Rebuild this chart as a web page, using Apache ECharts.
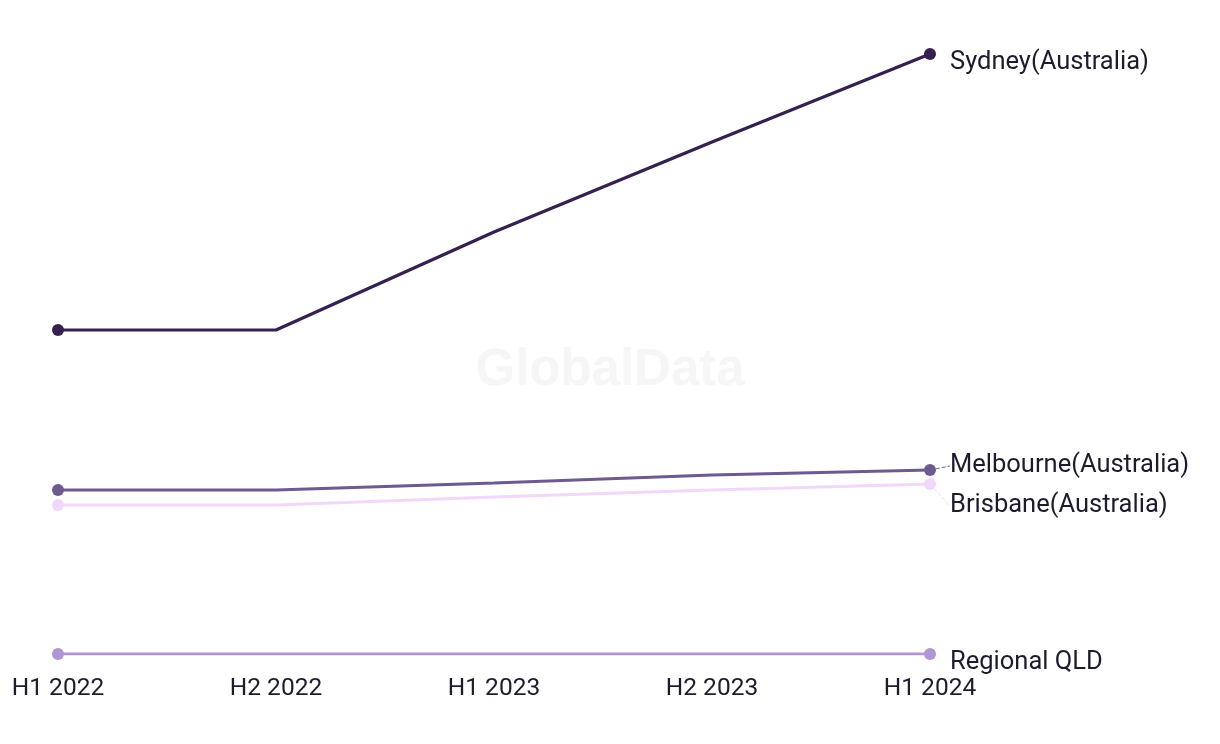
<!DOCTYPE html>
<html>
<head>
<meta charset="utf-8">
<style>
html,body{margin:0;padding:0;background:#fff;}
#chart{width:1220px;height:744px;}
</style>
<script src="https://cdn.jsdelivr.net/npm/echarts@6/dist/echarts.min.js"></script>
</head>
<body>
<div id="chart"></div>
<script>
const categories = ['H1 2022', 'H2 2022', 'H1 2023', 'H2 2023', 'H1 2024'];
const sydney = [364, 364, 462, 552, 640];
const melbourne = [204, 204, 211, 219, 224];
const brisbane = [189, 189, 197, 204, 210];
const regionalQld = [40, 40, 40, 40, 40];
const seriesNames = ['Sydney(Australia)', 'Melbourne(Australia)', 'Brisbane(Australia)', 'Regional QLD'];
const seriesColors = ['#35214f', '#6d5a8f', '#f1d8fa', '#b096d2'];
const seriesValues = [sydney, melbourne, brisbane, regionalQld];
const labelShift = [9, -4, 22, 9];
const showLeader = [false, true, true, false];

const FONT = 'Roboto';
const TEXT = '#1e1b2e';

function buildData(vals) {
  const last = vals.length - 1;
  return vals.map((v, i) => {
    if (i === last) return { value: v, symbol: 'circle', label: { show: true } };
    if (i === 0) return { value: v, symbol: 'circle' };
    return { value: v, symbol: 'none' };
  });
}

const chart = echarts.init(document.getElementById('chart'));
chart.setOption({
  animation: false,
  backgroundColor: '#ffffff',
  graphic: [{
    type: 'text',
    left: 'center',
    top: 345,
    z: -10,
    style: {
      text: 'GlobalData',
      fontFamily: 'Liberation Sans',
      fontWeight: 'bold',
      fontSize: 51,
      fill: '#f6f6f6'
    }
  }],
  grid: { left: 58, right: 290, top: 54, bottom: 90, containLabel: false },
  xAxis: {
    type: 'category',
    data: categories,
    boundaryGap: false,
    axisLine: { show: false },
    axisTick: { show: false },
    splitLine: { show: false },
    axisLabel: { color: TEXT, fontFamily: FONT, fontSize: 24.5, margin: 22 }
  },
  yAxis: {
    type: 'value',
    min: 40,
    max: 640,
    show: false,
    splitLine: { show: false }
  },
  series: seriesNames.map((name, k) => ({
    name: name,
    type: 'line',
    data: buildData(seriesValues[k]),
    symbol: 'circle',
    symbolSize: 12,
    showSymbol: true,
    showAllSymbol: true,
    color: seriesColors[k],
    lineStyle: { width: 3.2, color: seriesColors[k] },
    itemStyle: { color: seriesColors[k] },
    label: {
      show: false,
      position: 'right',
      distance: 14,
      formatter: '{a}',
      color: TEXT,
      fontFamily: FONT,
      fontSize: 25.5
    },
    labelLine: {
      show: showLeader[k],
      length2: 0,
      lineStyle: { type: 'dashed', width: 1, color: seriesColors[k] }
    },
    labelLayout: { dy: labelShift[k] },
    emphasis: { disabled: true }
  }))
});
</script>
</body>
</html>
